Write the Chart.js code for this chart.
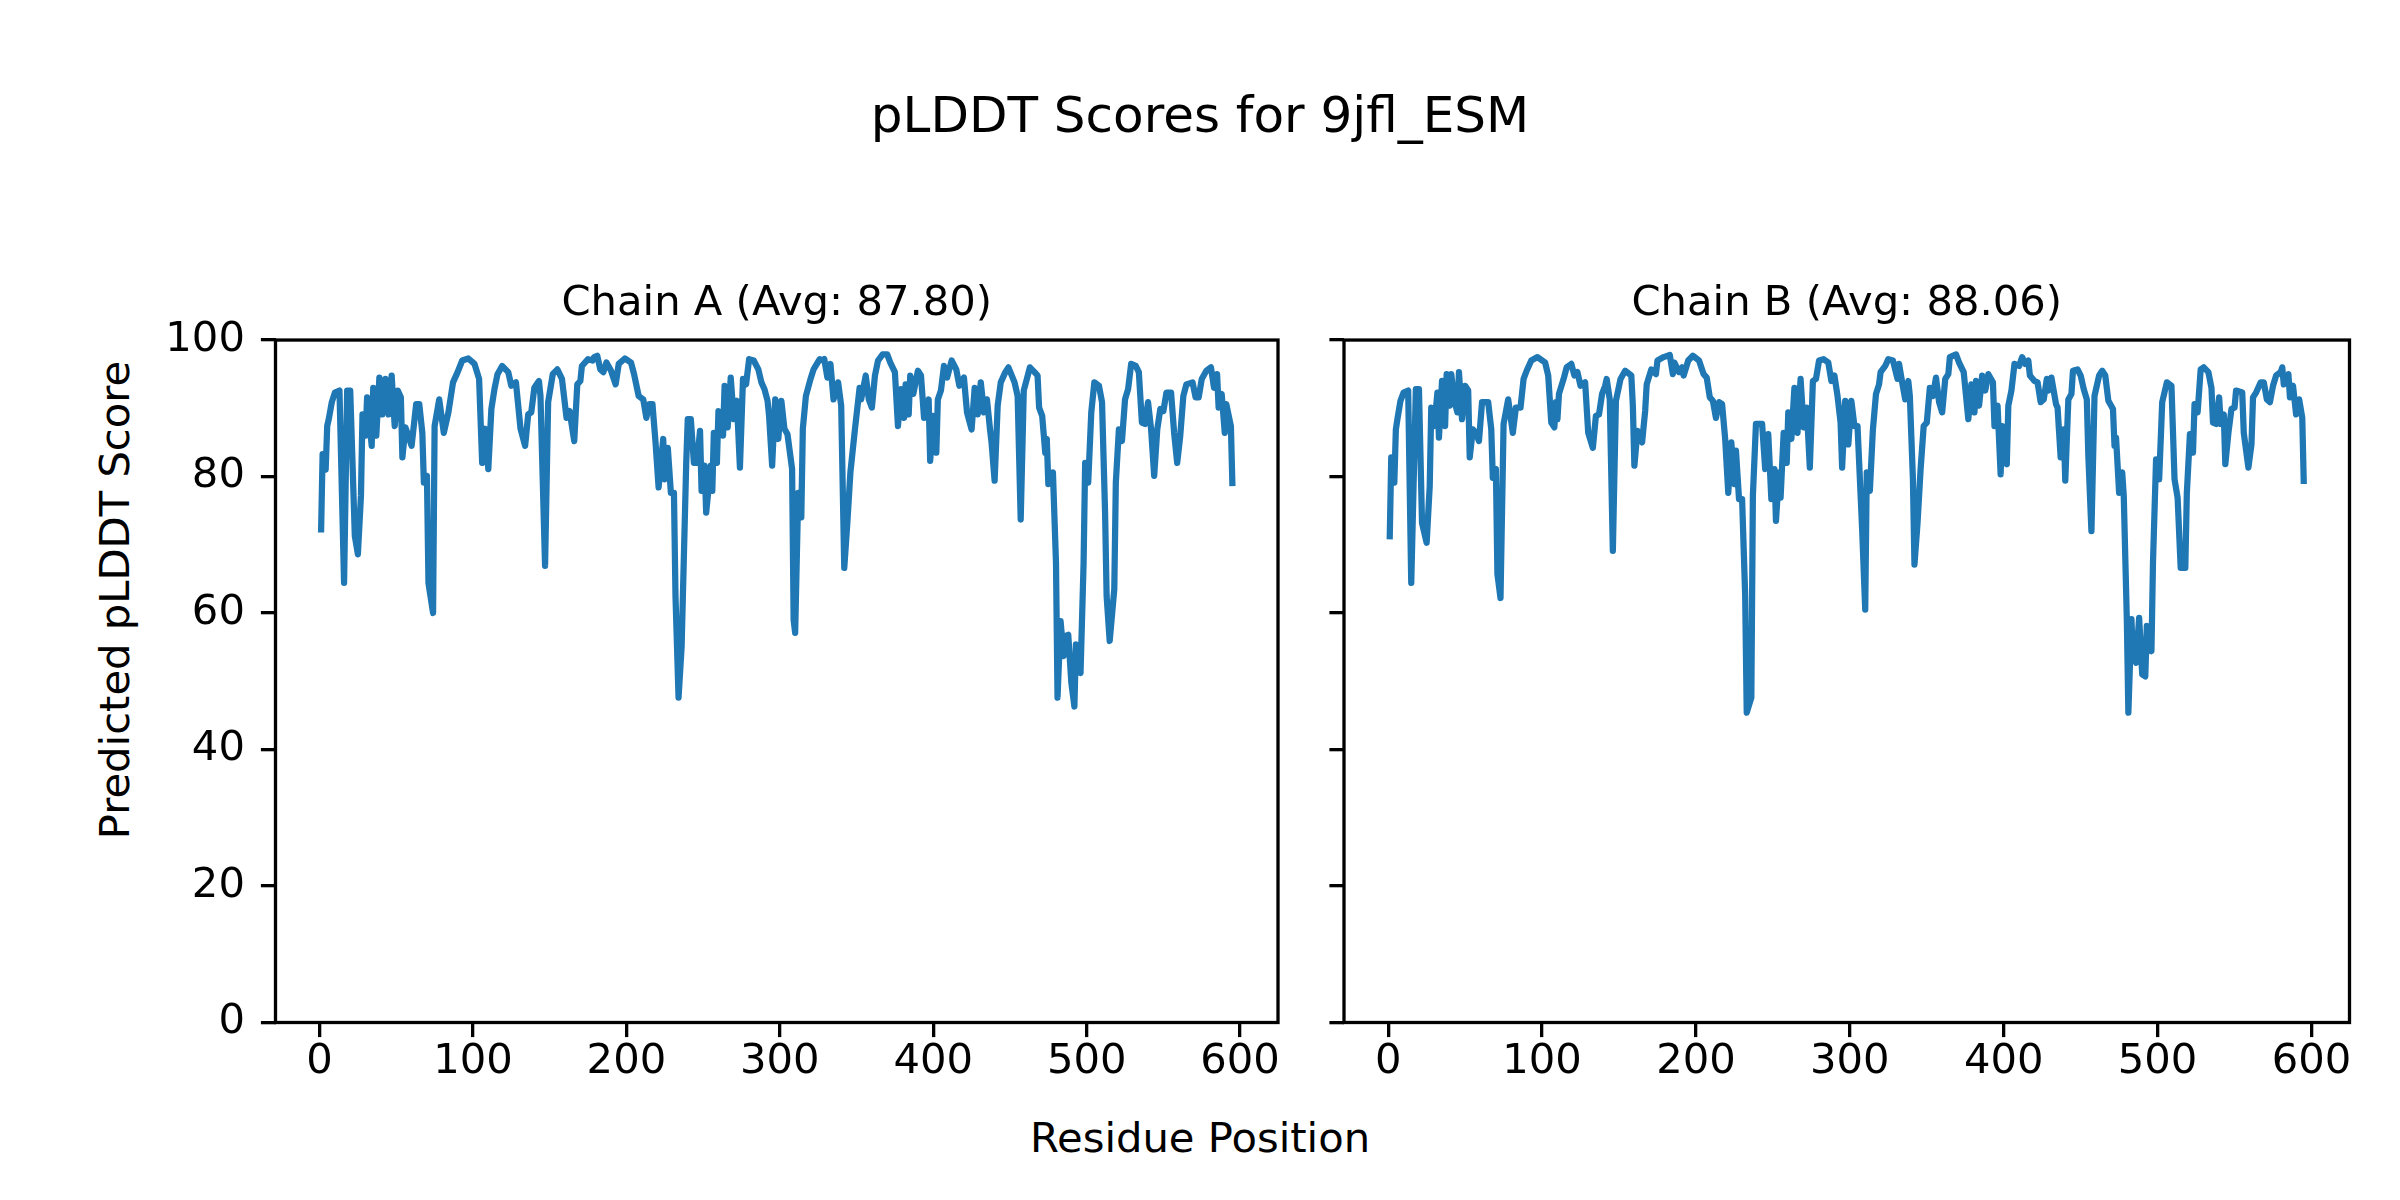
<!DOCTYPE html>
<html>
<head>
<meta charset="utf-8">
<script src="https://cdn.jsdelivr.net/npm/chart.js@4.4.1/dist/chart.umd.min.js"></script>
<style>
  body { margin: 0; background: #fff; }
  #fig { position: relative; width: 2400px; height: 1200px; font-family: "DejaVu Sans", sans-serif; color: #000; }
  .txt { position: absolute; white-space: nowrap; transform: translate(-50%, -50%); }
  canvas { position: absolute; }
</style>
</head>
<body>
<div id="fig">
  <div class="txt" style="left:1200px; top:115px; font-size:50px;">pLDDT Scores for 9jfl_ESM</div>
  <div class="txt" style="left:1200px; top:1137px; font-size:41.7px;">Residue Position</div>
  <div class="txt" style="left:114px; top:600px; font-size:41.7px; transform:translate(-50%,-50%) rotate(-90deg);">Predicted pLDDT Score</div>
  <canvas id="chainA" width="1300" height="900" style="left:0px; top:240px; width:1300px; height:900px;"></canvas>
  <canvas id="chainB" width="1090" height="900" style="left:1310px; top:240px; width:1090px; height:900px;"></canvas>
</div>
<script>
// values (residue index, pLDDT)
var residuesA = [
  1,2,4,5,6,8,10,13,16,18, 20,23,25,27,28,30,31,34,35,37,
  39,41,43,45,47,49,51,53,54,56, 60,63,65,67,68,70,71,74,75,78,
  81,84,87,90,93,97,101,104,106,108, 110,112,114,116,119,123,125,128,131,134,
  136,138,140,143,144,147,149,152,155,158, 161,163,166,168,170,171,175,178,179,181,
  183,185,187,190,193,195,199,203,205,208, 211,213,215,217,219,221,224,225,227,229,
  231,232,234,236,239,240,242,244,246,248, 249,251,252,255,256,257,259,260,263,264,
  266,268,270,272,274,276,278,280,283,286, 288,290,292,293,295,297,299,301,303,305,
  308,309,310,312,314,315,317,320,322,326, 328,329,331,333,335,338,340,342,344,346,
  349,352,353,356,358,360,362,364,367,370, 372,375,377,379,381,382,384,385,387,390,
  392,394,397,398,400,402,403,405,407,409, 412,415,417,420,422,425,427,429,431,433,
  435,437,438,440,442,444,447,449,453,455, 457,459,461,463,466,468,469,471,473,474,
  475,478,480,481,483,485,486,488,490,492, 493,496,498,499,501,503,505,508,510,512,
  513,515,518,519,521,523,525,527,529,532, 534,536,538,540,542,544,546,548,550,552,
  555,557,559,561,563,565,569,571,573,575, 578,581,583,585,586,588,590,591,594,595
];
var plddtA = [
  71.8,83.3,81,87.4,88.4,90.9,92.3,92.6,64.4,92.6, 92.6,71.3,68.6,77.2,89.1,86,91.6,84.5,93,86,
  94.5,89.1,94.3,89.1,94.8,87.4,92.6,91.6,82.8,87.2, 84.5,90.6,90.6,86.4,79.1,80.1,64.4,60,87.4,91.3,
  86.4,89.4,93.8,95.3,97,97.3,96.5,94.3,82,87, 81.1,89.9,92.8,95,96.2,95.3,93.3,93.8,87,84.5,
  89.1,89.4,93,94,91.8,66.9,90.9,95,95.7,94.3, 88.6,89.6,85.2,93.5,94,96.2,97.2,97,97.5,97.7,
  95.7,95.3,96.7,95.5,93.5,96.5,97.3,96.7,95,91.8, 91.3,88.6,90.6,90.6,85,78.4,85.5,79.6,84.2,77.6,
  77.6,62.5,47.6,55.1,82,88.4,88.4,82,82,86.7, 77.9,81.6,74.7,81.6,77.9,86.4,82,89.6,86,93.3,
  87.2,94.5,88.4,91.1,81.3,94.3,93.5,97.2,97,95.7, 93.8,92.8,91.1,88.9,81.6,91.3,85.5,91.1,87,86.2,
  81.1,59,57.1,77.6,74,87,91.8,94.3,95.7,97.2, 97,97.2,94.5,96.5,91.3,93.8,90.4,66.6,73.2,80.6,
  87,93,91.3,94.8,91.3,90.1,94.8,97,97.9,97.9, 96.7,95.3,87.4,92.8,88.6,93.5,89.1,94.8,92.1,95.5,
  94.8,88.6,91.3,82.3,88.9,83.5,91.3,92.6,96.2,94.5, 97,95.7,93.3,94.5,89.4,86.9,93,89.1,93.8,89.4,
  91.3,86.9,85,79.4,90.4,93.8,95.3,96,93.8,91.8, 73.7,92.6,94.3,96,95.3,94.8,90.1,88.9,83.5,85.5,
  78.9,80.6,67.4,47.6,58.8,53.7,56.6,56.8,49.8,46.3, 55.4,51.2,67.4,82,79.1,89.4,93.8,93.3,90.9,74.7,
  62.5,55.9,63.5,79.1,86.9,85.2,91.3,92.8,96.5,96.2, 95.3,87.9,87.7,90.9,86.9,80.1,86.9,89.9,89.6,92.3,
  92.3,86.4,82,86,91.8,93.5,93.8,91.6,91.6,94.3, 95.5,96,93,95,90.1,92.1,86.4,90.6,87.4,78.6
];

var residuesB = [
  1,2,4,5,6,8,10,13,15,18, 20,22,25,27,28,30,32,33,35,37,
  38,40,41,43,45,46,48,50,52,53, 55,57,59,61,65,67,68,70,71,73,
  75,78,81,83,86,88,90,93,97,102, 104,106,108,109,110,111,114,116,119,121,
  123,125,128,130,133,135,137,139,141,142, 144,146,148,151,154,158,159,160,162,165,
  167,168,171,174,175,179,183,185,186,189, 191,192,195,198,202,205,207,209,211,213,
  215,217,219,221,223,225,226,228,230,232, 233,236,237,239,243,245,247,249,251,252,
  254,255,257,259,260,262,264,266,268,270, 272,274,276,278,280,283,286,288,290,292,
  294,295,297,299,301,303,305,308,310,311, 313,315,317,319,320,323,325,328,331,332,
  334,336,338,339,341,342,344,346,348,350, 352,354,356,358,360,362,364,365,369,371,
  374,377,379,381,382,384,386,388,390,393, 394,396,398,399,402,403,405,407,410,412,
  414,416,417,420,422,424,426,428,429,431, 434,435,437,439,440,442,444,445,448,450,
  452,454,455,457,459,462,464,466,468,471, 472,473,475,477,478,480,481,483,484,485,
  486,488,490,492,493,496,497,499,501,503, 506,509,511,513,515,518,519,521,523,524,
  526,528,530,533,535,536,538,540,541,543, 544,546,548,550,551,555,556,559,561,562,
  564,567,569,571,573,575,577,580,581,582, 585,586,588,590,592,594,595
];
var plddtB = [
  70.8,82.8,79.1,86.9,88.4,91.1,92.3,92.6,64.4,92.8, 92.8,73.2,70.3,78.6,90.1,87.4,92.3,85.7,94,87.4,
  95,90.4,95,91.1,89.4,95.3,88.4,93.3,92.6,82.8, 86.9,86.4,85.2,90.9,90.9,86.9,79.8,81.1,65.7,62.2,
  87.7,91.3,86.4,90.1,90.1,94.3,95.5,97,97.5,96.7, 94.8,87.9,87.2,90.9,88.4,92.1,94.3,96,96.5,94.8,
  95.3,93.3,93.8,86.4,84.2,88.9,89.1,92.1,93.3,94.3, 91.3,69.1,91.1,94.3,95.5,94.8,90.4,81.6,86.7,85,
  89.6,93.5,95.7,95,97,97.5,97.8,95,96.7,95.3, 96,94.8,97,97.7,97,95,94.5,91.6,91.1,88.6,
  90.9,90.6,85.5,77.6,85,78.9,83.8,76.7,76.7,62.5, 45.4,47.6,77.2,87.7,87.7,81.1,86.2,76.7,81.1,73.5,
  80.6,76.9,86.4,82,89.4,85.5,93,86.4,94.3,87.2, 90.1,81.3,94,94.3,97,97.2,96.7,94,94.8,91.8,
  87.9,81.3,91.1,84.7,91.1,87.4,87.4,72.3,60.5,80.6, 77.9,86.9,92.1,93.5,95.3,96.2,97.2,97,94.3,96.5,
  93.8,91.3,94,91.8,79.6,67.1,73.2,81.1,87.4,87.9, 93,91.8,94.5,90.9,89.4,94.3,95,97.5,97.9,96.7,
  95.3,88.4,93.5,89.4,94,90.4,94.8,92.6,95,93.8, 87.4,90.4,80.3,87.4,81.8,90.4,92.6,96.5,96.2,97.5,
  96.5,97,94.8,94,93.8,90.9,91.3,94.3,92.6,94.5, 90.6,90.1,82.8,86.9,79.4,91.3,92.1,95.5,95.7,94.8,
  92.8,91.3,83,72,91.8,94.8,95.5,94.8,91.1,89.9, 84.5,85.7,77.6,80.6,77.2,59.1,45.4,59.1,53.4,53.4,
  52.7,59.3,51,50.7,58.1,54.4,67.4,82.5,79.6,90.9, 93.8,93.3,79.6,76.9,66.6,66.6,77.6,86.2,83.5,90.6,
  89.4,95.7,96,95.3,93,87.9,87.7,91.6,87.7,89.1, 81.8,86.4,89.9,90.1,92.6,92.3,86.4,81.3,84.7,91.6,
  92.3,93.8,93.8,91.3,90.9,93.3,94.8,95.3,96,93.5, 95,91.6,93.3,89.1,91.3,88.6,78.9
];

var xTicks = [0, 100, 200, 300, 400, 500, 600];
var yTicks = [0, 20, 40, 60, 80, 100];
var chainTitles = ['Chain A (Avg: 87.80)', 'Chain B (Avg: 88.06)'];

var FONT = 'DejaVu Sans';

// draws the four spines round the plot area
var frame = {
    id: 'frame',
    afterDraw: function(chart) {
        var a = chart.chartArea, ctx = chart.ctx;
        ctx.save();
        ctx.strokeStyle = '#000';
        ctx.lineWidth = 3.3;
        ctx.strokeRect(a.left, a.top, a.right - a.left, a.bottom - a.top);
        ctx.restore();
    }
};

function makeChart(id, residues, scores, title, showYLabels, yWidth, rightPad) {
    var ctx = document.getElementById(id).getContext('2d');
    return new Chart(ctx, {
        type: 'line',
        data: {
            datasets: [{
                data: residues.map(function(r, i) { return {x: r, y: scores[i]}; }),
                borderColor: '#1f77b4',
                borderWidth: 6.25,
                borderJoinStyle: 'round',
                borderCapStyle: 'butt',
                pointRadius: 0,
                tension: 0,
                fill: false
            }]
        },
        options: {
            responsive: false,
            animation: false,
            devicePixelRatio: 1,
            layout: { padding: { left: 0, right: rightPad, top: 0, bottom: 0 } },
            plugins: {
                legend: { display: false },
                tooltip: { enabled: false },
                title: {
                    display: true,
                    fullSize: false,   // centre over the plot area, not the whole canvas
                    text: title,
                    color: '#000',
                    font: { family: FONT, size: 41.7, weight: 'normal' },
                    padding: { top: 39, bottom: 11 }
                }
            },
            scales: {
                x: {
                    type: 'linear',
                    min: -28.7,
                    max: 624.7,
                    afterBuildTicks: function(s) { s.ticks = xTicks.map(function(v) { return {value: v}; }); },
                    afterFit: function(s) { s.height = 117.5; },
                    border: { display: false },
                    grid: { drawOnChartArea: false, drawTicks: true, tickLength: 14.6, tickWidth: 3.3, tickColor: '#000', lineWidth: 3.3, color: '#000' },
                    ticks: { color: '#000', padding: 0, maxRotation: 0, font: { family: FONT, size: 41.7 } }
                },
                y: {
                    min: 0,
                    max: 100,
                    afterBuildTicks: function(s) { s.ticks = yTicks.map(function(v) { return {value: v}; }); },
                    afterFit: function(s) { s.width = yWidth; },
                    border: { display: false },
                    grid: { drawOnChartArea: false, drawTicks: true, tickLength: 14.6, tickWidth: 3.3, tickColor: '#000', lineWidth: 3.3, color: '#000' },
                    ticks: {
                        color: '#000',
                        padding: 16,
                        font: { family: FONT, size: 41.7 },
                        callback: function(v) { return showYLabels ? v : ''; }
                    }
                }
            }
        },
        plugins: [frame]
    });
}

makeChart('chainA', residuesA, plddtA, chainTitles[0], true, 275.5, 22);
makeChart('chainB', residuesB, plddtB, chainTitles[1], false, 34, 50.5);
</script>
</body>
</html>
